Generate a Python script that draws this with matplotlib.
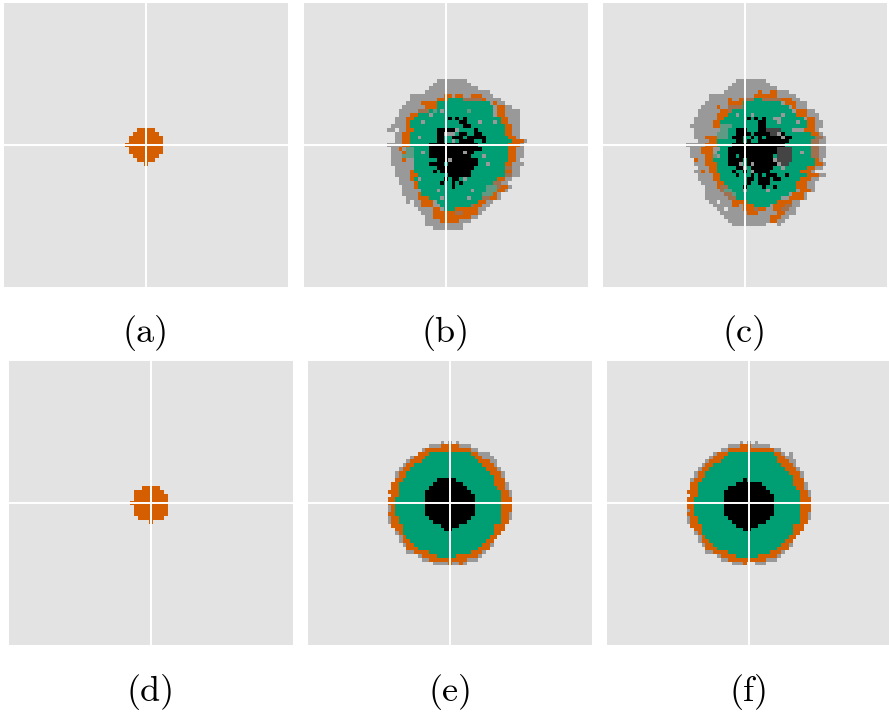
import re
import numpy as np
import matplotlib
matplotlib.use('Agg')
import matplotlib.pyplot as plt
from matplotlib.colors import ListedColormap

# 每行是游程编码: 个数+状态字符
# . 背景 g 灰 o 橙 t 绿 k 黑 d 深灰 b 棕灰 n 灰绿
states = '.gotkdbn'
colors = ['#e3e3e3', '#999999', '#d55e00', '#009e73', '#000000', '#444444', '#a0704f', '#5f9a85']

rows_a = ['3.5o', '2.7o', '1.9o', '1.9o', '10o', '1.9o', '1.9o', '2.7o', '3.5o', '5.1o']

rows_b = ['14.8g', '13.10g', '12.13g', '11.17g', '7.9g2o1g2o2g3o3g', '7.7g3o4t5b1o4g',
          '6.4g4o14t1g1o2g', '5.6g3o15t1g2o2g', '4.5g3b1t1n1t1g6t1n6t1g2o4g', '4.3g2o3t1g16t1g2o4g',
          '3.3g2o9t1k1t1k1t1k9t2o3g', '3.3g1o3t1g9t2k3t1g3t1g1t2o3g', '2.4g1o14t2k9t2o2g',
          '1.2g1.2g2o6t5k1g4t1k7t2o2g', '3.2g2o7t2k3g1t2k2t2k6t2o2g',
          '3.2g2o2t1g4t2k2t3k1t5k6t2o1g', '3.2g2o7t2k2t1g1t4k2t1k7t3o1g',
          '1.4g2o5t13k8t3o1g', '2.2g1o1g2n4t14k7t2o2g', '2.3g1o2n2t1g1t9k1g2k9t2o2g',
          '2.3g3n4t11k3t1g6t2o2g', '2.3g1o2g6t3k1g7k8t2o1g', '2.6g4t4k1t8k2t1g4t2o3g',
          '3.5g6t10k8t2b2g', '3.4g1o5t1k1t8k9t2o2g', '3.4g2o8t6k9t2b2g',
          '4.3g1o1t1g6t1k1t2k1t1g8t2o2g', '4.4g1o6t1k2t1k1t1k8t2b2g',
          '5.3g1o9t1k8t3n1b2o1g', '5.5g4t1g8t1g3t3n2o1g', '5.4g1o16t3n1o1g',
          '6.3g3o3t1g6t1g3t2b2o1g', '6.1g1.2g3o1g11t2o2g', '8.2g3o2g8t1b2o2g',
          '9.4g2o1g3t6o2g', '10.3g6o2b4o1g', '11.2g10o2g', '11.4g5o3g', '11.10g', '13.8g']

rows_c = ['14.8g', '13.10g', '12.13g', '11.9g1o2g2o3g', '7.12g6o5g', '7.5g1o2g1o3b2t5b3o2g',
          '6.6g4o10t1g3o3g', '5.4g1o2g4b12t1g1o3g', '4.6g2o1b16t1g3o2g', '4.5g3o2t1g3t1g7t1g3t3o3g',
          '3.5g1g2o6t1k1t1k1t1k2t2g6t1g2o1g', '3.5g2o10t2k3t1g4t1g2t2o2g', '2.6g2o3n7t2k11t2o2g',
          '3.7g2n2t3k3t2k4d3t3g1o2o1g', '3.6g3n2t4k1t4k2d1g1k7t2o1g',
          '3.3g3o3n1t3k2t1k1t1k1t4k1g2k6t2b1g',
          '4.3g2o5t2k1t1k2t8k6t2b2g', '1.5g3o4t14k7t2b2g', '2.3g3o2g2t13k4d5t2b2g',
          '2.3g3o1g3t13k4d2t1g2t2b2g', '2.4g2o1n1g2t2k1t9k1t4d5t2b2g', '3.1o2g2o4t4k1t7k1g4d6t1o1g',
          '3.3g3o3t3k1g1t1k1g6k1g2d7t2o1g', '4.3g2o5t2k1g1t6k2t1g6t2o2g',
          '3.2g1o1g2o4t1k2t1k1t1g4k8t3o1g', '4.4g2o4t1k3t1k1t1k1t3k2t1k5t3o2g',
          '4.4g2o7t2k1t3k1t2k5t3o2g', '5.4g2o6t1k2t3k7t3o2g',
          '6.3g1o2b4t1k4t1k2t1k5t3o2g', '6.4g1b2n3t1g5t1g7t1g3o1g', '6.5g2b1n14t1g3o1g',
          '6.6g2b12t2g4o1g', '7.2g1.3g4o8t4o2g', '8.5g2o1g3o4t1g3o2b2g',
          '9.2g1.4g3o1b2o2g2o2b2g', '10.7g3o5g2o3g', '11.12g3o2g', '12.11g2o2g', '13.9g3.1g']

rows_d = ['3.5o', '1.8o', '1.9o', '1.9o', '10o', '1.9o', '1.9o', '1.9o', '2.7o', '5.1o']

rows_e = ['14.1g1.1g1.1g', '11.3g5o3g', '9.1g12o2g', '8.3o11t2o3g', '6.1g3o13t2o3g',
          '5.1g3o15t3o2g', '4.1g2o18t3o1g', '3.1g2o20t3o1g', '2.1g2o22t3o1g', '2.1g2o23t2o1g',
          '2.2o9t5k10t3o', '1.2o9t8k8t3o1g', '1.2o8t10k8t2o1g', '3o7t12k8t2o1g',
          '1.2o7t13k7t2o1g', '2o8t13k7t3o', '2o8t13k7t3o', '1g1o8t13k7t3o', '1g1o8t13k7t3o',
          '2o8t13k7t2o1g', '1g2o8t11k8t2o1g', '1g2o9t9k9t2o', '1.3o10t5k9t3o',
          '2.2o11t2k11t3o', '2.1g1o24t2o', '3.1g1o22t2o', '3.1g2o20t2o', '4.1g2o18t2o1g',
          '5.3o16t3o', '5.2g4o11t3o1g', '8.1g4o5t6o1g', '9.2g10o3g', '12.4g1o2g1o1g']

rows_f = ['14.1g1.1g1.1g', '11.3g3o5g', '9.2g12o2g', '7.1g3o12t2o1g1.1g', '6.1g3o14t2o2g',
          '5.1g3o15t3o2g', '4.1g2o18t3o1g', '3.1g2o20t3o1g', '2.1g2o22t3o1g', '2.1g2o23t2o1g',
          '1.1g2o11t1k12t3o', '1.2o10t7k8t3o1g', '1.2o8t10k8t2o1g', '3o7t12k8t2o1g',
          '1.2o7t13k7t2o1g', '2o8t13k7t3o', '2o8t13k7t3o', '2o8t13k7t3o', '1g1o8t13k7t3o',
          '2o8t13k7t2o1g', '1g2o8t11k8t2o1g', '1g2o9t9k9t2o', '1.3o9t6k9t3o',
          '2.2o11t2k11t3o', '2.1g1o24t2o', '3.1g1o22t2o', '3.1g2o20t2o', '4.1g2o18t2o1g',
          '5.3o16t3o', '5.2g4o11t3o1g', '8.1g4o6t5o1g', '9.2g10o3g', '12.3g1o2.3g']

labels = ['(a)', '(b)', '(c)', '(d)', '(e)', '(f)']


def to_grid(rows, first_row, first_col, n=75):
    # 还原成 n*n 的网格, 中心格是 (37,37)
    grid = np.zeros((n, n), dtype=int)
    for k, row in enumerate(rows):
        col = first_col
        for count, ch in re.findall(r'(\d+)(\D)', row):
            grid[37 + first_row + k, 37 + col:37 + col + int(count)] = states.index(ch)
            col += int(count)
    return grid


W, H = 889, 715
fig = plt.figure(figsize=(W / 100, H / 100), dpi=100)
cmap = ListedColormap(colors)

# (网格, 左边, 上边, 起始行, 起始列)
panels = [(rows_a, 4, 3, -4, -5), (rows_b, 304, 3, -17, -16), (rows_c, 603, 3, -17, -16),
          (rows_d, 9, 361, -4, -5), (rows_e, 308, 361, -16, -16), (rows_f, 607, 361, -16, -16)]
size = 284

for (rows, left, top, r0, c0), lab in zip(panels, labels):
    ax = fig.add_axes([left / W, 1 - (top + size) / H, size / W, size / H])
    ax.imshow(to_grid(rows, r0, c0), cmap=cmap, vmin=0, vmax=len(colors) - 1,
              extent=(-37.5, 37.5, 37.5, -37.5), interpolation='nearest', aspect='auto')
    ax.axhline(0, color='white', lw=1.4)
    ax.axvline(0, color='white', lw=1.4)
    ax.axis('off')
    fig.text((left + size / 2) / W, 1 - (top + size + 46.5) / H, lab, family='cmr10',
             fontsize=26, ha='center', va='center')

fig.savefig('out.png', dpi=100)
